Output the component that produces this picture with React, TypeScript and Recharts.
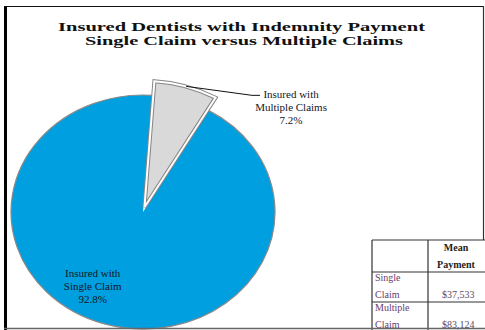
import React from "react";
import { Cell, Pie, PieChart } from "recharts";

// chart values
const categories = ["Insured with Single Claim", "Insured with Multiple Claims"];
const shares = [92.8, 7.2];
const labelLines = [
  ["Insured with", "Single Claim"],
  ["Insured with", "Multiple Claims"],
];
const sliceColors = ["#00a0e0", "#d9d9d9"];

const titleLines = [
  "Insured Dentists with Indemnity Payment",
  "Single Claim versus Multiple Claims",
];

const tableHeader = ["Mean", "Payment"];
const tableRows = [
  ["Single", "Claim"],
  ["Multiple", "Claim"],
];
const meanPayments = ["$37,533", "$83,124"];

const data = categories.map((name, i) => ({ name, value: shares[i] }));

const RAD = Math.PI / 180;
const RY_RATIO = 117 / 132; // picture is stretched sideways, pie is an ellipse
const EXPLODE = 5;
const EXPLODE_SCALE = 1.08; // the pulled-out wedge is drawn a bit larger
const FONT = "'Liberation Serif', 'Times New Roman', serif";

const wedgeGeom = (cx: number, cy: number, r: number, mid: number, exploded: boolean) => {
  const off = exploded ? EXPLODE : 0;
  const k = exploded ? EXPLODE_SCALE : 1;
  return {
    ox: cx + off * Math.cos(-mid * RAD),
    oy: cy + off * Math.sin(-mid * RAD),
    rx: r * k,
    ry: r * k * RY_RATIO,
  };
};

const EllipseSector = (props: any) => {
  const { cx, cy, outerRadius, startAngle, endAngle, fill, name } = props;
  const exploded = name === categories[1];
  const mid = (startAngle + endAngle) / 2;
  const { ox, oy, rx, ry } = wedgeGeom(cx, cy, outerRadius, mid, exploded);
  const pt = (a: number) => [ox + rx * Math.cos(-a * RAD), oy + ry * Math.sin(-a * RAD)];
  const [x1, y1] = pt(startAngle);
  const [x2, y2] = pt(endAngle);
  const large = Math.abs(endAngle - startAngle) > 180 ? 1 : 0;
  const sweep = endAngle > startAngle ? 0 : 1;
  const arc = `A ${rx} ${ry} 0 ${large} ${sweep} ${x2} ${y2}`;
  const full = `M ${ox} ${oy} L ${x1} ${y1} ${arc} Z`;
  if (exploded) {
    return (
      <g>
        <path d={full} fill={fill} stroke="#858585" strokeWidth={4} strokeLinejoin="miter" />
        <path d={full} fill="none" stroke="#ffffff" strokeWidth={2} strokeLinejoin="miter" />
      </g>
    );
  }
  return (
    <g>
      <path d={full} fill={fill} stroke="none" />
      <path d={`M ${x1} ${y1} ${arc}`} fill="none" stroke="#8a8a8a" strokeWidth={1.2} />
    </g>
  );
};

const renderLabel = (props: any) => {
  const { cx, cy, midAngle, outerRadius, index, value } = props;
  const lines = [...labelLines[index], `${value}%`];
  if (index === 0) {
    const rx = outerRadius;
    const ry = outerRadius * RY_RATIO;
    const a = midAngle - 16;
    const x = cx + 0.7 * rx * Math.cos(-a * RAD);
    const y = cy + 0.75 * ry * Math.sin(-a * RAD);
    return (
      <text x={x} y={y - 9} textAnchor="middle" fontFamily={FONT} fontSize={11} fill="#141428">
        {lines.map((l, i) => (
          <tspan key={i} x={x} dy={i === 0 ? 0 : 13}>
            {l}
          </tspan>
        ))}
      </text>
    );
  }
  const { ox, oy, rx, ry } = wedgeGeom(cx, cy, outerRadius, midAngle, true);
  const sx = ox + rx * Math.cos(-midAngle * RAD);
  const sy = oy + ry * Math.sin(-midAngle * RAD);
  const ex = sx + 66;
  const ey = sy + 9;
  const tx = ex + 39;
  return (
    <g>
      <polyline points={`${sx},${sy} ${ex},${ey} ${ex + 8},${ey}`} fill="none" stroke="#111" strokeWidth={1} />
      <text x={tx} y={ey + 3} textAnchor="middle" fontFamily={FONT} fontSize={11} fill="#141428">
        {lines.map((l, i) => (
          <tspan key={i} x={tx} dy={i === 0 ? 0 : 13}>
            {l}
          </tspan>
        ))}
      </text>
    </g>
  );
};

const Overlay = () => {
  const tl = 372;
  const tm = 428;
  const rowY = [240, 272, 302, 332];
  return (
    <svg
      width={485}
      height={330}
      style={{ position: "absolute", left: 0, top: 0, pointerEvents: "none" }}
    >
      <text x={241.5} y={30.5} textAnchor="middle" fontFamily={FONT} fontWeight="bold" fontSize={13.5} textLength={367} lengthAdjust="spacingAndGlyphs" fill="#111">
        {titleLines[0]}
      </text>
      <text x={244} y={45} textAnchor="middle" fontFamily={FONT} fontWeight="bold" fontSize={13.5} textLength={318} lengthAdjust="spacingAndGlyphs" fill="#111">
        {titleLines[1]}
      </text>

      {/* table */}
      <rect x={tl} y={rowY[0]} width={490 - tl} height={100} fill="#fff" />
      {rowY.slice(0, 3).map((y) => (
        <line key={y} x1={tl} x2={485} y1={y} y2={y} stroke="#333" strokeWidth={1.2} />
      ))}
      <line x1={tl} x2={tl} y1={rowY[0]} y2={330} stroke="#333" strokeWidth={1.2} />
      <line x1={tm} x2={tm} y1={rowY[0]} y2={330} stroke="#333" strokeWidth={1.2} />
      <text x={456} y={251} textAnchor="middle" fontFamily={FONT} fontWeight="bold" fontSize={10} fill="#222">
        {tableHeader[0]}
      </text>
      <text x={456} y={268} textAnchor="middle" fontFamily={FONT} fontWeight="bold" fontSize={10} fill="#222">
        {tableHeader[1]}
      </text>
      {tableRows.map((r, i) => (
        <g key={i}>
          <text x={375} y={rowY[i + 1] + 9} fontFamily={FONT} fontSize={10} fill="#6a3a70">
            {r[0]}
          </text>
          <text x={375} y={rowY[i + 1] + 26} fontFamily={FONT} fontSize={10} fill="#6a3a70">
            {r[1]}
          </text>
          <text x={442} y={rowY[i + 1] + 26} fontFamily={FONT} fontSize={10} fill="#5a4a66">
            {meanPayments[i]}
          </text>
        </g>
      ))}

      {/* frame */}
      <line x1={5.5} x2={5.5} y1={6} y2={330} stroke="#000" strokeWidth={3} />
      <line x1={4} x2={484} y1={6.5} y2={6.5} stroke="#111" strokeWidth={1.2} />
      <line x1={483.5} x2={483.5} y1={6} y2={240} stroke="#333" strokeWidth={1.2} />
      <line x1={4} x2={485} y1={328.5} y2={328.5} stroke="#666" strokeWidth={1.5} />
    </svg>
  );
};

export default function App() {
  return (
    <div style={{ position: "absolute", left: 0, top: 0, width: 485, height: 330, background: "#fff" }}>
      <PieChart width={485} height={330} margin={{ top: 0, right: 0, bottom: 0, left: 0 }}>
        <Pie
          data={data}
          dataKey="value"
          nameKey="name"
          cx={143}
          cy={212}
          outerRadius={132}
          startAngle={86}
          endAngle={446}
          stroke="none"
          shape={EllipseSector}
          activeShape={EllipseSector}
          inactiveShape={EllipseSector}
          label={renderLabel}
          labelLine={false}
          isAnimationActive={false}
        >
          {data.map((d, i) => (
            <Cell key={d.name} fill={sliceColors[i]} />
          ))}
        </Pie>
      </PieChart>
      <Overlay />
    </div>
  );
}
